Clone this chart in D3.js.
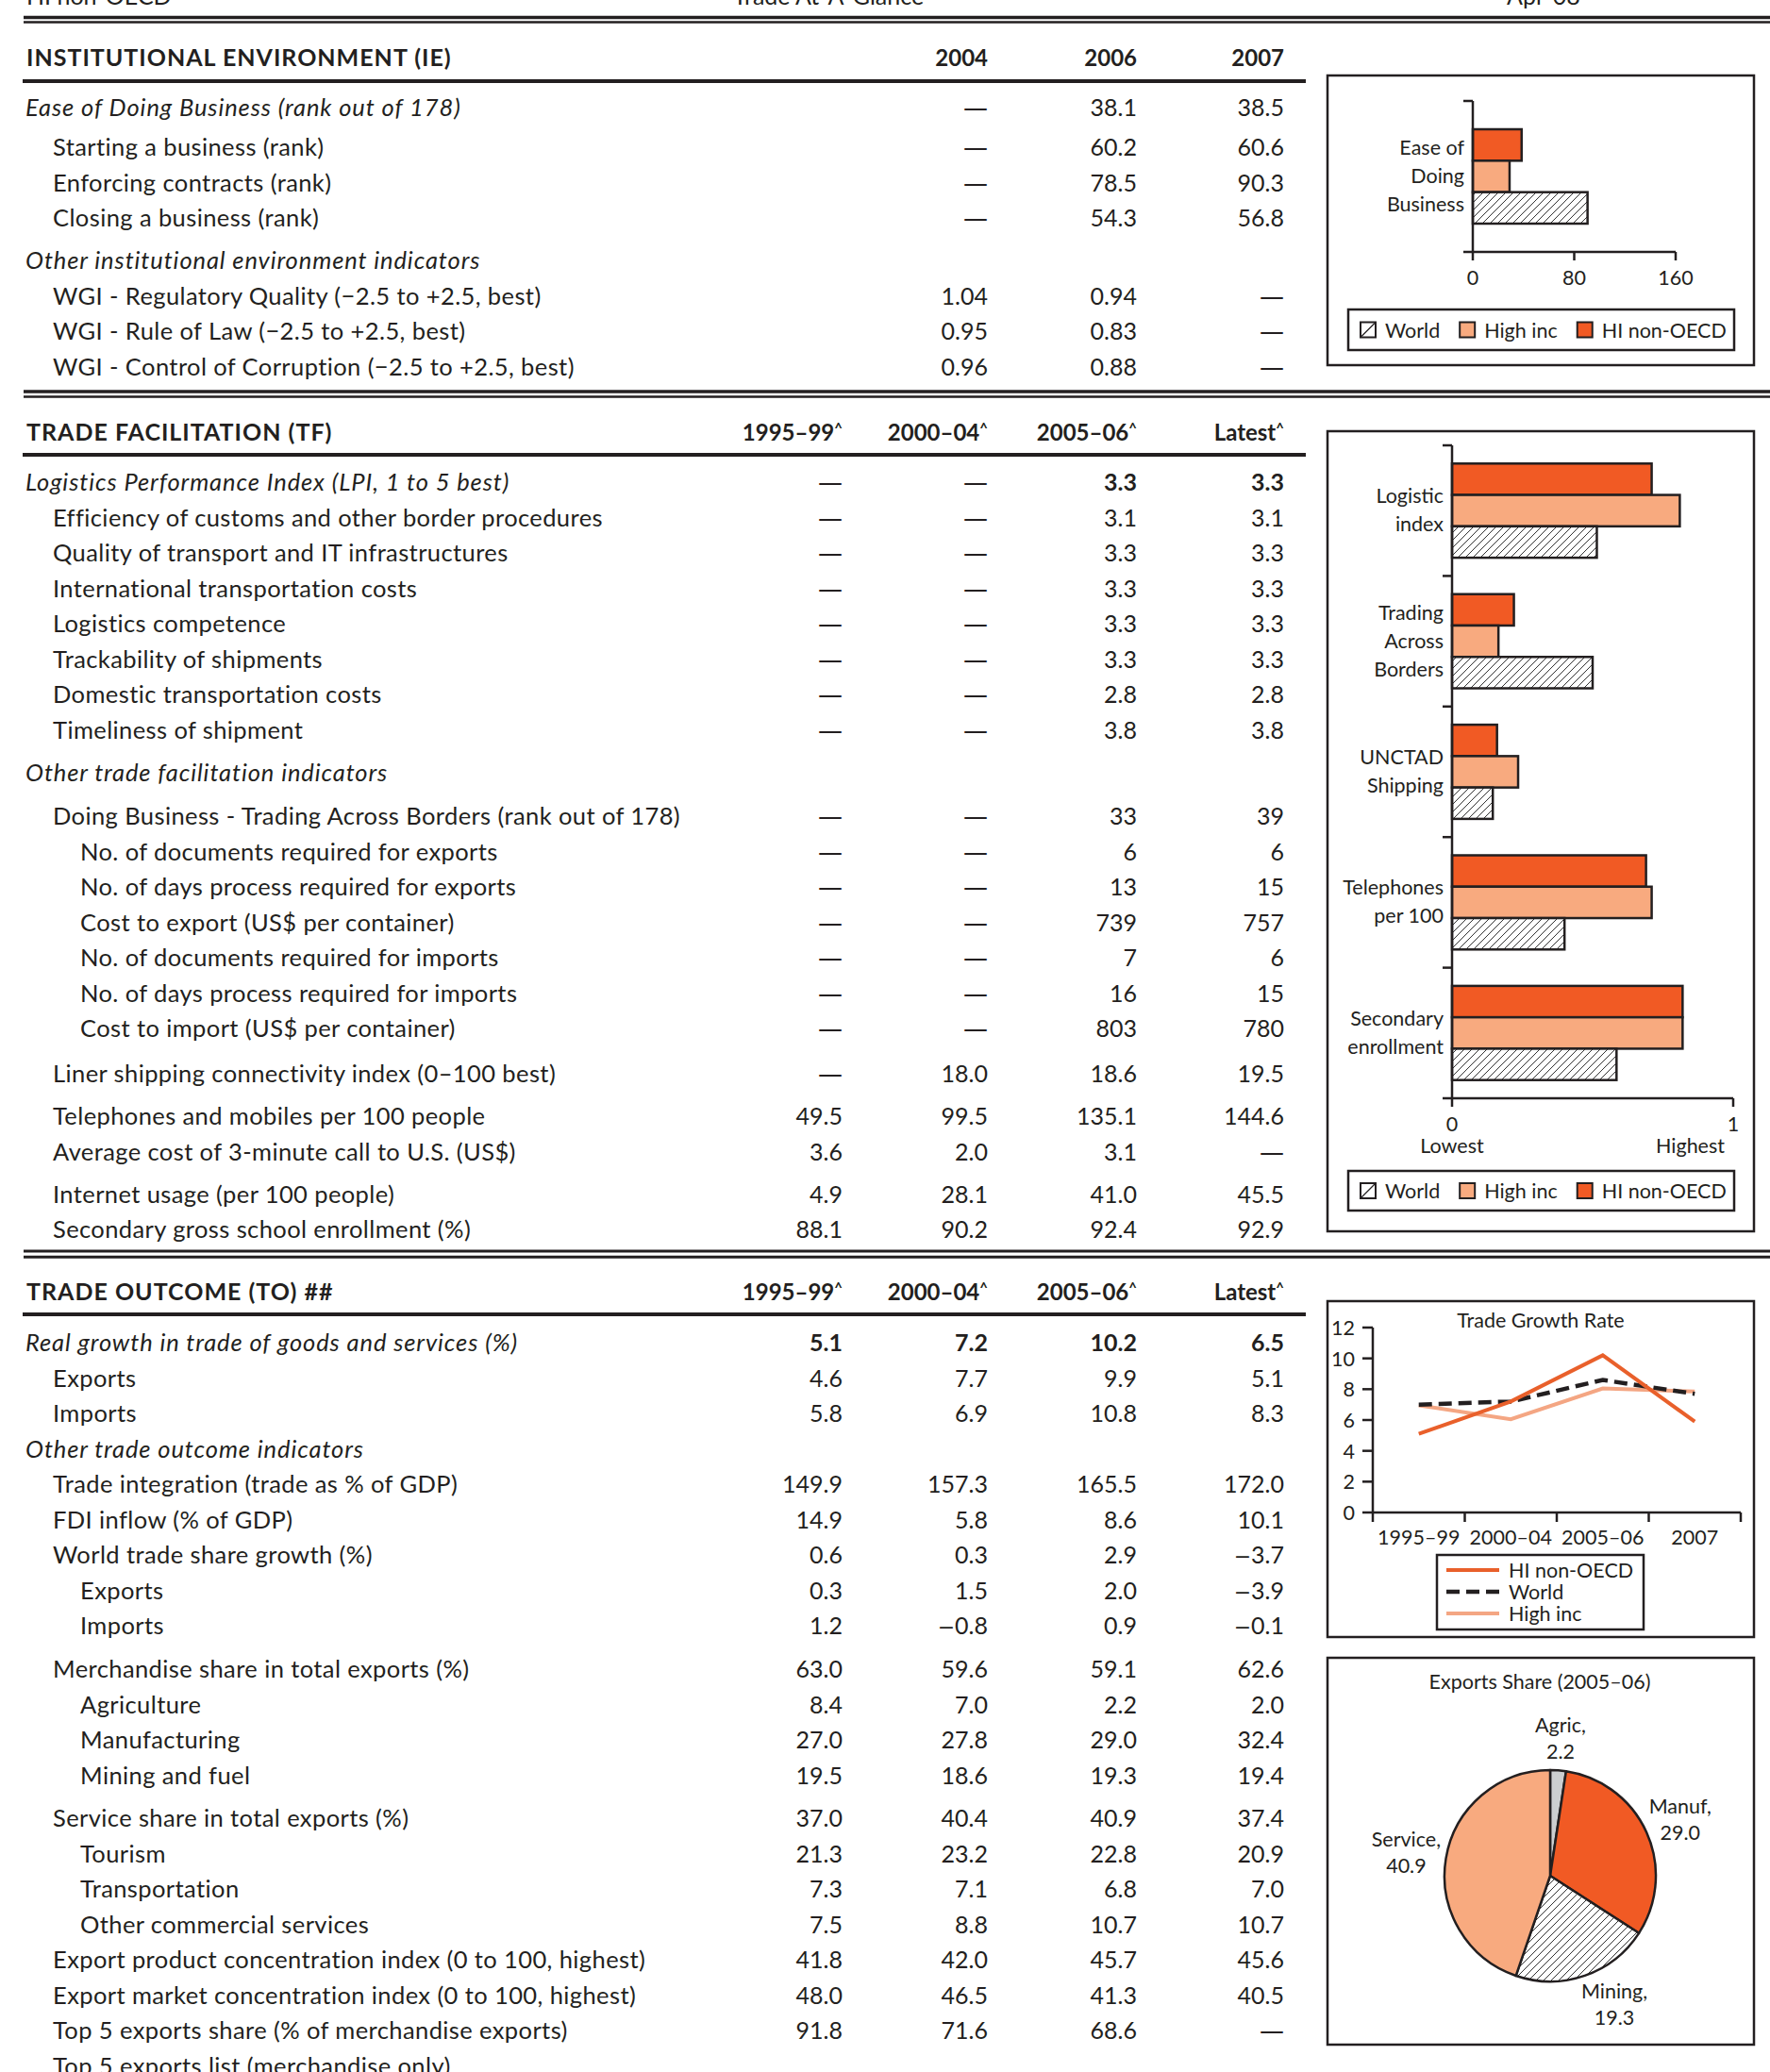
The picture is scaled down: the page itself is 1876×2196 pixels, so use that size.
<!DOCTYPE html>
<html><head><meta charset="utf-8">
<script src="https://cdn.jsdelivr.net/npm/d3@7"></script>
<style>body{margin:0;background:#fff}svg{display:block}text{font-family:Lato,"Open Sans",sans-serif}</style>
</head><body><svg id="c" width="1876" height="2196"></svg>
<script>
// ---------------- DATA ----------------
const pageHeader = ["HI non-OECD", "Trade At-A-Glance", "Apr-08"];

const ieTitle = "INSTITUTIONAL ENVIRONMENT (IE)";
const ieColumns = ["2004", "2006", "2007"];
const ieRows = [
  ["Ease of Doing Business (rank out of 178)", 0, ["—", "38.1", "38.5"]],
  ["Starting a business (rank)", 1, ["—", "60.2", "60.6"]],
  ["Enforcing contracts (rank)", 1, ["—", "78.5", "90.3"]],
  ["Closing a business (rank)", 1, ["—", "54.3", "56.8"]],
  ["Other institutional environment indicators", 0, []],
  ["WGI - Regulatory Quality (−2.5 to +2.5, best)", 1, ["1.04", "0.94", "—"]],
  ["WGI - Rule of Law (−2.5 to +2.5, best)", 1, ["0.95", "0.83", "—"]],
  ["WGI - Control of Corruption (−2.5 to +2.5, best)", 1, ["0.96", "0.88", "—"]]
];

const tfTitle = "TRADE FACILITATION (TF)";
const periodColumns = ["1995–99", "2000–04", "2005–06", "Latest"];
const tfRows = [
  ["Logistics Performance Index (LPI, 1 to 5 best)", 0, ["—", "—", "3.3", "3.3"]],
  ["Efficiency of customs and other border procedures", 1, ["—", "—", "3.1", "3.1"]],
  ["Quality of transport and IT infrastructures", 1, ["—", "—", "3.3", "3.3"]],
  ["International transportation costs", 1, ["—", "—", "3.3", "3.3"]],
  ["Logistics competence", 1, ["—", "—", "3.3", "3.3"]],
  ["Trackability of shipments", 1, ["—", "—", "3.3", "3.3"]],
  ["Domestic transportation costs", 1, ["—", "—", "2.8", "2.8"]],
  ["Timeliness of shipment", 1, ["—", "—", "3.8", "3.8"]],
  ["Other trade facilitation indicators", 0, []],
  ["Doing Business - Trading Across Borders (rank out of 178)", 1, ["—", "—", "33", "39"]],
  ["No. of documents required for exports", 2, ["—", "—", "6", "6"]],
  ["No. of days process required for exports", 2, ["—", "—", "13", "15"]],
  ["Cost to export (US$ per container)", 2, ["—", "—", "739", "757"]],
  ["No. of documents required for imports", 2, ["—", "—", "7", "6"]],
  ["No. of days process required for imports", 2, ["—", "—", "16", "15"]],
  ["Cost to import (US$ per container)", 2, ["—", "—", "803", "780"]],
  ["Liner shipping connectivity index (0–100 best)", 1, ["—", "18.0", "18.6", "19.5"]],
  ["Telephones and mobiles per 100 people", 1, ["49.5", "99.5", "135.1", "144.6"]],
  ["Average cost of 3-minute call to U.S. (US$)", 1, ["3.6", "2.0", "3.1", "—"]],
  ["Internet usage (per 100 people)", 1, ["4.9", "28.1", "41.0", "45.5"]],
  ["Secondary gross school enrollment (%)", 1, ["88.1", "90.2", "92.4", "92.9"]]
];

const toTitle = "TRADE OUTCOME (TO) ##";
const toRows = [
  ["Real growth in trade of goods and services (%)", 0, ["5.1", "7.2", "10.2", "6.5"]],
  ["Exports", 1, ["4.6", "7.7", "9.9", "5.1"]],
  ["Imports", 1, ["5.8", "6.9", "10.8", "8.3"]],
  ["Other trade outcome indicators", 0, []],
  ["Trade integration (trade as % of GDP)", 1, ["149.9", "157.3", "165.5", "172.0"]],
  ["FDI inflow (% of GDP)", 1, ["14.9", "5.8", "8.6", "10.1"]],
  ["World trade share growth (%)", 1, ["0.6", "0.3", "2.9", "−3.7"]],
  ["Exports", 2, ["0.3", "1.5", "2.0", "−3.9"]],
  ["Imports", 2, ["1.2", "−0.8", "0.9", "−0.1"]],
  ["Merchandise share in total exports (%)", 1, ["63.0", "59.6", "59.1", "62.6"]],
  ["Agriculture", 2, ["8.4", "7.0", "2.2", "2.0"]],
  ["Manufacturing", 2, ["27.0", "27.8", "29.0", "32.4"]],
  ["Mining and fuel", 2, ["19.5", "18.6", "19.3", "19.4"]],
  ["Service share in total exports (%)", 1, ["37.0", "40.4", "40.9", "37.4"]],
  ["Tourism", 2, ["21.3", "23.2", "22.8", "20.9"]],
  ["Transportation", 2, ["7.3", "7.1", "6.8", "7.0"]],
  ["Other commercial services", 2, ["7.5", "8.8", "10.7", "10.7"]],
  ["Export product concentration index (0 to 100, highest)", 1, ["41.8", "42.0", "45.7", "45.6"]],
  ["Export market concentration index (0 to 100, highest)", 1, ["48.0", "46.5", "41.3", "40.5"]],
  ["Top 5 exports share (% of merchandise exports)", 1, ["91.8", "71.6", "68.6", "—"]],
  ["Top 5 exports list (merchandise only)", 1, []]
];

// bar charts (series order top->bottom inside each group)
const barSeries = ["HI non-OECD", "High inc", "World"];
const legendSeries = ["World", "High inc", "HI non-OECD"];
const ieBarCategories = ["Ease of\nDoing\nBusiness"];
const ieBarHiNonOecd = [38.5];
const ieBarHighInc = [29.0];
const ieBarWorld = [90.5];
const ieBarTicks = [0, 80, 160];

const tfBarCategories = ["Logistic\nindex", "Trading\nAcross\nBorders", "UNCTAD\nShipping", "Telephones\nper 100", "Secondary\nenrollment"];
const tfBarHiNonOecd = [0.71, 0.22, 0.16, 0.69, 0.82];
const tfBarHighInc = [0.81, 0.165, 0.235, 0.71, 0.82];
const tfBarWorld = [0.515, 0.50, 0.145, 0.40, 0.585];
const tfBarTicks = [0, 1];

// trade growth line chart
const growthPeriods = ["1995–99", "2000–04", "2005–06", "2007"];
const growthHiNonOecd = [5.1, 7.2, 10.2, 5.9];
const growthWorld = [7.0, 7.2, 8.6, 7.7];
const growthHighInc = [6.95, 6.05, 8.05, 7.85];
const growthTicks = [0, 2, 4, 6, 8, 10, 12];

// exports share pie
const exportLabels = ["Agric", "Manuf", "Mining", "Service"];
const exportValues = [2.2, 29.0, 19.3, 40.9];

// ---------------- STYLE ----------------
const INK = "#231f20";
const C_HI = "#f15a24";
const C_HIGH = "#f8aa7f";
const C_LINE_HI = "#e9602b";
const C_LINE_HIGH = "#f4a683";
const C_AGRIC = "#ccced0";
const seriesFill = {"HI non-OECD": C_HI, "High inc": C_HIGH, "World": "url(#hatch)"};

const svg = d3.select("#c");
svg.append("rect").attr("width", 1876).attr("height", 2196).attr("fill", "#fff");
const defs = svg.append("defs");
const pat = defs.append("pattern").attr("id", "hatch").attr("patternUnits", "userSpaceOnUse")
  .attr("width", 8).attr("height", 8);
pat.append("rect").attr("width", 8).attr("height", 8).attr("fill", "#fff");
pat.append("path").attr("d", "M-2,2 L2,-2 M0,8 L8,0 M6,10 L10,6").attr("stroke", "#333").attr("stroke-width", 1);

function txt(g, x, y, s, o = {}) {
  const t = g.append("text").attr("x", x).attr("y", y).text(s)
    .attr("font-size", o.size || 25).attr("font-weight", o.weight || "normal")
    .attr("font-style", o.style || "normal").attr("text-anchor", o.anchor || "start")
    .attr("fill", o.fill || INK);
  if (o.ls) t.attr("letter-spacing", o.ls);
  if (o.family) t.style("font-family", o.family);
  return t;
}
function hline(x1, x2, y, w) {
  svg.append("line").attr("x1", x1).attr("x2", x2).attr("y1", y).attr("y2", y)
    .attr("stroke", INK).attr("stroke-width", w);
}

// ---------------- PAGE HEADER ----------------
const headerX = [28, 777, 1597];
pageHeader.forEach((s, i) => txt(svg, headerX[i], 5, s));
[[18.5, 3.5], [23.5, 2.6], [415, 3.5], [420.5, 2.6], [1326, 3], [1332.3, 3]]
  .forEach(([y, w]) => hline(25, 1876, y, w));

// ---------------- TABLE SECTIONS ----------------
const STEP = 37.5;
const indentX = [27, 56, 85];
const periodCols = [893, 1047, 1205, 1361];

function valueText(x, y, v, bold) {
  if (v === "—") return txt(svg, x, y, v, {anchor: "end", size: 26, family: "'DejaVu Sans', sans-serif"});
  if (v.startsWith("−")) {
    const t = txt(svg, x, y, "", {anchor: "end", weight: bold ? "bold" : "normal"});
    t.append("tspan").style("font-family", "'DejaVu Sans', sans-serif").attr("font-size", 22).text("−");
    t.append("tspan").text(v.slice(1));
    return t;
  }
  return txt(svg, x, y, v, {anchor: "end", weight: bold ? "bold" : "normal"});
}

function drawSection(title, columns, rows, L) {
  txt(svg, 28, L.titleY, title, {weight: "bold", size: 25, ls: 1.0});
  columns.forEach((c, i) => {
    const t = txt(svg, L.cols[i], L.titleY, c, {weight: "bold", anchor: "end", size: 24});
    if (L.caret) t.append("tspan").attr("dy", -8).attr("font-size", 15).text("^");
  });
  hline(24, 1384, L.ruleY, 4);
  let off = 0;
  rows.forEach((r, i) => {
    const g = L.gaps.find(d => d[0] === i);
    if (g) off += g[1];
    const y = L.firstY + i * STEP + off;
    const it = r[1] === 0;
    txt(svg, indentX[r[1]], y, r[0], {style: it ? "italic" : "normal", size: 25.5, ls: it ? 0.9 : 0.4});
    r[2].forEach((v, j) => valueText(L.cols[j], y, v, L.bold && i === 0));
  });
}
drawSection(ieTitle, ieColumns, ieRows, {titleY: 70, ruleY: 86, firstY: 123, gaps: [[1, 4.5], [4, 7.5]], cols: periodCols.slice(1), caret: false, bold: false});
drawSection(tfTitle, periodColumns, tfRows, {titleY: 467, ruleY: 482, firstY: 520, gaps: [[8, 8], [9, 8.5], [16, 10.5], [17, 7.5], [19, 7.5]], cols: periodCols, caret: true, bold: true});
drawSection(toTitle, periodColumns, toRows, {titleY: 1378, ruleY: 1393, firstY: 1432, gaps: [[9, 8.5], [13, 8]], cols: periodCols, caret: true, bold: true});

// ---------------- HELPERS FOR CHARTS ----------------
function box(x, y, w, h) {
  svg.append("rect").attr("x", x).attr("y", y).attr("width", w).attr("height", h)
    .attr("fill", "none").attr("stroke", INK).attr("stroke-width", 2.5);
}
function swatch(g, x, y, name) {
  g.append("rect").attr("x", x).attr("y", y).attr("width", 16).attr("height", 16)
    .attr("fill", name === "World" ? "#fff" : seriesFill[name]).attr("stroke", INK).attr("stroke-width", 2);
  if (name === "World") g.append("line").attr("x1", x + 1).attr("y1", y + 15).attr("x2", x + 15).attr("y2", y + 1)
    .attr("stroke", INK).attr("stroke-width", 1.2);
}
function barLegend(x, y, w, h) {
  box(x, y, w, h);
  const g = svg.append("g");
  let cx = x + 13;
  legendSeries.forEach(name => {
    swatch(g, cx, y + h / 2 - 8, name);
    const t = txt(g, cx + 26, y + h / 2 + 8, name, {size: 21.5});
    cx += 26 + t.node().getComputedTextLength() + 21;
  });
}

function barChart(cfg) {
  box(...cfg.box);
  const g = svg.append("g");
  const x = d3.scaleLinear().domain(cfg.domain).range(cfg.xRange);
  const y = d3.scaleBand().domain(cfg.categories).range(cfg.yRange).padding(0);
  const yi = d3.scaleBand().domain(barSeries).range([0, y.bandwidth()]).paddingInner(0).paddingOuter(cfg.innerPad);
  const vals = {"HI non-OECD": cfg.hi, "High inc": cfg.high, "World": cfg.world};
  cfg.categories.forEach((cat, ci) => {
    barSeries.forEach(s => {
      g.append("rect").attr("x", x(0)).attr("y", y(cat) + yi(s))
        .attr("width", x(vals[s][ci]) - x(0)).attr("height", yi.bandwidth())
        .attr("fill", seriesFill[s]).attr("stroke", INK).attr("stroke-width", 2.5);
    });
    const lines = cat.split("\n");
    const c = y(cat) + y.bandwidth() / 2;
    lines.forEach((ln, li) => txt(g, x(0) - 9, c + (li - (lines.length - 1) / 2) * 30 + 7, ln, {size: 21.5, anchor: "end"}));
  });
  const axisG = g.append("g").attr("stroke", INK).attr("stroke-width", 2.5);
  axisG.append("line").attr("x1", x(0)).attr("x2", x(0)).attr("y1", cfg.yRange[0]).attr("y2", cfg.yRange[1]);
  cfg.categories.forEach(cat => axisG.append("line").attr("x1", x(0) - 10).attr("x2", x(0)).attr("y1", y(cat)).attr("y2", y(cat)));
  axisG.append("line").attr("x1", x(0) - 10).attr("x2", x(cfg.domain[1])).attr("y1", cfg.yRange[1]).attr("y2", cfg.yRange[1]);
  cfg.ticks.forEach(t => {
    axisG.append("line").attr("x1", x(t)).attr("x2", x(t)).attr("y1", cfg.yRange[1]).attr("y2", cfg.yRange[1] + 9);
    txt(g, x(t), cfg.yRange[1] + 35, String(t), {size: 21.5, anchor: "middle"});
  });
  return {g, x};
}

// IE bar chart
barChart({box: [1407, 80, 452, 307], domain: [0, 160], xRange: [1561, 1776], yRange: [107, 267],
  categories: ieBarCategories, hi: ieBarHiNonOecd, high: ieBarHighInc, world: ieBarWorld, ticks: ieBarTicks, innerPad: 0.9});
barLegend(1429, 328, 409, 43);

// TF bar chart
const tfc = barChart({box: [1407, 457, 452, 848], domain: [0, 1], xRange: [1539, 1837], yRange: [472, 1164],
  categories: tfBarCategories, hi: tfBarHiNonOecd, high: tfBarHighInc, world: tfBarWorld, ticks: tfBarTicks, innerPad: 0.58});
txt(tfc.g, tfc.x(0), 1222, "Lowest", {size: 21.5, anchor: "middle"});
txt(tfc.g, tfc.x(1) - 9, 1222, "Highest", {size: 21.5, anchor: "end"});
barLegend(1429, 1241, 409, 42);

// ---------------- LINE CHART ----------------
(function () {
  box(1407, 1379, 452, 356);
  const g = svg.append("g");
  const x = d3.scaleBand().domain(growthPeriods).range([1455, 1845]);
  const y = d3.scaleLinear().domain([0, 12]).range([1603, 1407]);
  txt(g, 1633, 1407, "Trade Growth Rate", {size: 21.5, anchor: "middle"});
  const ax = g.append("g").attr("stroke", INK).attr("stroke-width", 2.5);
  ax.append("line").attr("x1", 1455).attr("x2", 1455).attr("y1", y(12)).attr("y2", y(0));
  ax.append("line").attr("x1", 1455).attr("x2", 1845).attr("y1", y(0)).attr("y2", y(0));
  growthTicks.forEach(t => {
    ax.append("line").attr("x1", 1444).attr("x2", 1455).attr("y1", y(t)).attr("y2", y(t));
    txt(g, 1436, y(t) + 8, String(t), {size: 21.5, anchor: "end"});
  });
  growthPeriods.concat([null]).forEach(p => {
    const xx = p === null ? x.range()[1] : x(p);
    ax.append("line").attr("x1", xx).attr("x2", xx).attr("y1", y(0)).attr("y2", y(0) + 10);
  });
  growthPeriods.forEach(p => txt(g, x(p) + x.bandwidth() / 2, 1637, p, {size: 21.5, anchor: "middle"}));
  const line = d3.line().x((d, i) => x(growthPeriods[i]) + x.bandwidth() / 2).y(d => y(d));
  const series = [
    {name: "HI non-OECD", v: growthHiNonOecd, c: C_LINE_HI, dash: null, w: 4},
    {name: "World", v: growthWorld, c: INK, dash: "14,7", w: 4.5},
    {name: "High inc", v: growthHighInc, c: C_LINE_HIGH, dash: null, w: 4}
  ];
  [series[2], series[1], series[0]].forEach(s => {
    g.append("path").attr("d", line(s.v)).attr("fill", "none").attr("stroke", s.c)
      .attr("stroke-width", s.w).attr("stroke-dasharray", s.dash);
  });
  box(1523, 1648, 219, 79);
  series.forEach((s, i) => {
    const yy = 1664 + i * 23;
    g.append("line").attr("x1", 1533).attr("x2", 1589).attr("y1", yy).attr("y2", yy)
      .attr("stroke", s.c).attr("stroke-width", s.w).attr("stroke-dasharray", s.dash);
    txt(g, 1599, yy + 8, s.name, {size: 21.5});
  });
})();

// ---------------- PIE CHART ----------------
(function () {
  box(1407, 1757, 452, 410);
  const g = svg.append("g");
  txt(g, 1632, 1790, "Exports Share (2005–06)", {size: 21.5, anchor: "middle"});
  const cx = 1643, cy = 1988, R = 112;
  const fills = [C_AGRIC, C_HI, "url(#hatch)", C_HIGH];
  const arcs = d3.pie().sort(null)(exportValues);
  const arc = d3.arc().innerRadius(0).outerRadius(R);
  const pg = g.append("g").attr("transform", `translate(${cx},${cy})`);
  pg.selectAll("path").data(arcs).join("path").attr("d", arc)
    .attr("fill", (d, i) => fills[i]).attr("stroke", INK).attr("stroke-width", 2.5).attr("stroke-linejoin", "round");
  arcs.forEach((d, i) => {
    const a = (d.startAngle + d.endAngle) / 2;
    const l1 = exportLabels[i] + ",";
    const l2 = exportValues[i].toFixed(1);
    const probe = txt(g, 0, -100, l1, {size: 21.5});
    const hw = probe.node().getComputedTextLength() / 2;
    probe.remove();
    const px = cx + Math.sin(a) * (118 + hw) + (Math.cos(a) < -0.5 ? 18 : 0);
    const py = cy - Math.cos(a) * (118 + 27);
    txt(g, px, py - 7, l1, {size: 21.5, anchor: "middle"});
    txt(g, px, py + 21, l2, {size: 21.5, anchor: "middle"});
  });
})();
</script></body></html>
